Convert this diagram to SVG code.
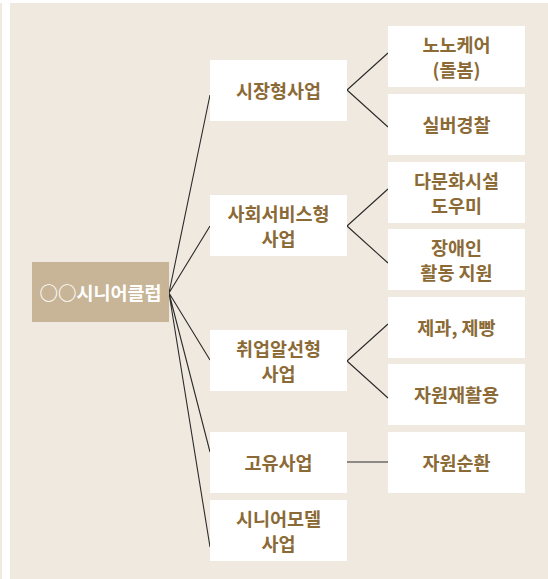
<svg xmlns="http://www.w3.org/2000/svg" width="548" height="579" viewBox="0 0 548 579">
<style>
.bg{fill:#f0e9e0}
.box{fill:#ffffff}
.t{font-family:"Noto Sans CJK KR","Noto Sans",sans-serif;font-weight:bold;font-size:18.5px;fill:#8b6a36;text-anchor:middle;dominant-baseline:central}
.ct{fill:#ffffff}
.ln{stroke:#2b2b2b;stroke-width:1.1;fill:none}
</style>
<rect x="0" y="0" width="548" height="579" fill="#ffffff"/>
<rect x="0" y="3" width="2" height="576" class="bg"/>
<rect x="10" y="3" width="538" height="576" class="bg"/>
<g id="connectors">
<path class="ln" d="M169 293 L210 95 M169 293 L210 226 M169 293 L210 360 M169 293 L210 452 M169 293 L210 547"/>
<path class="ln" d="M347 90 L388 53 M347 90 L388 127"/>
<path class="ln" d="M347 226 L388 189 M347 226 L388 263"/>
<path class="ln" d="M347 361 L388 324 M347 361 L388 398"/>
<path class="ln" d="M347 462 L388 462"/>
</g>
<g id="root"><rect x="32" y="262" width="137" height="60" fill="#c8b597"/><text class="t ct" x="100.5" y="292">○○시니어클럽</text></g>
<g id="m1"><rect class="box" x="210" y="60" width="137" height="61"/><text class="t" x="278.5" y="90">시장형사업</text></g>
<g id="m2"><rect class="box" x="210" y="195" width="137" height="61"/><text class="t" x="278.5" y="213">사회서비스형</text><text class="t" x="278.5" y="238">사업</text></g>
<g id="m3"><rect class="box" x="210" y="330" width="137" height="61"/><text class="t" x="278.5" y="348">취업알선형</text><text class="t" x="278.5" y="373">사업</text></g>
<g id="m4"><rect class="box" x="210" y="432" width="137" height="61"/><text class="t" x="278.5" y="462">고유사업</text></g>
<g id="m5"><rect class="box" x="210" y="500" width="137" height="61"/><text class="t" x="278.5" y="518">시니어모델</text><text class="t" x="278.5" y="543">사업</text></g>
<g id="r1"><rect class="box" x="388" y="26" width="137" height="61"/><text class="t" x="456.5" y="44">노노케어</text><text class="t" x="456.5" y="69">(돌봄)</text></g>
<g id="r2"><rect class="box" x="388" y="94" width="137" height="61"/><text class="t" x="456.5" y="124">실버경찰</text></g>
<g id="r3"><rect class="box" x="388" y="162" width="137" height="61"/><text class="t" x="456.5" y="180">다문화시설</text><text class="t" x="456.5" y="205">도우미</text></g>
<g id="r4"><rect class="box" x="388" y="229" width="137" height="61"/><text class="t" x="456.5" y="247">장애인</text><text class="t" x="456.5" y="272">활동 지원</text></g>
<g id="r5"><rect class="box" x="388" y="297" width="137" height="61"/><text class="t" x="456.5" y="327">제과, 제빵</text></g>
<g id="r6"><rect class="box" x="388" y="364" width="137" height="61"/><text class="t" x="456.5" y="394">자원재활용</text></g>
<g id="r7"><rect class="box" x="388" y="432" width="137" height="61"/><text class="t" x="456.5" y="462">자원순환</text></g>
</svg>
